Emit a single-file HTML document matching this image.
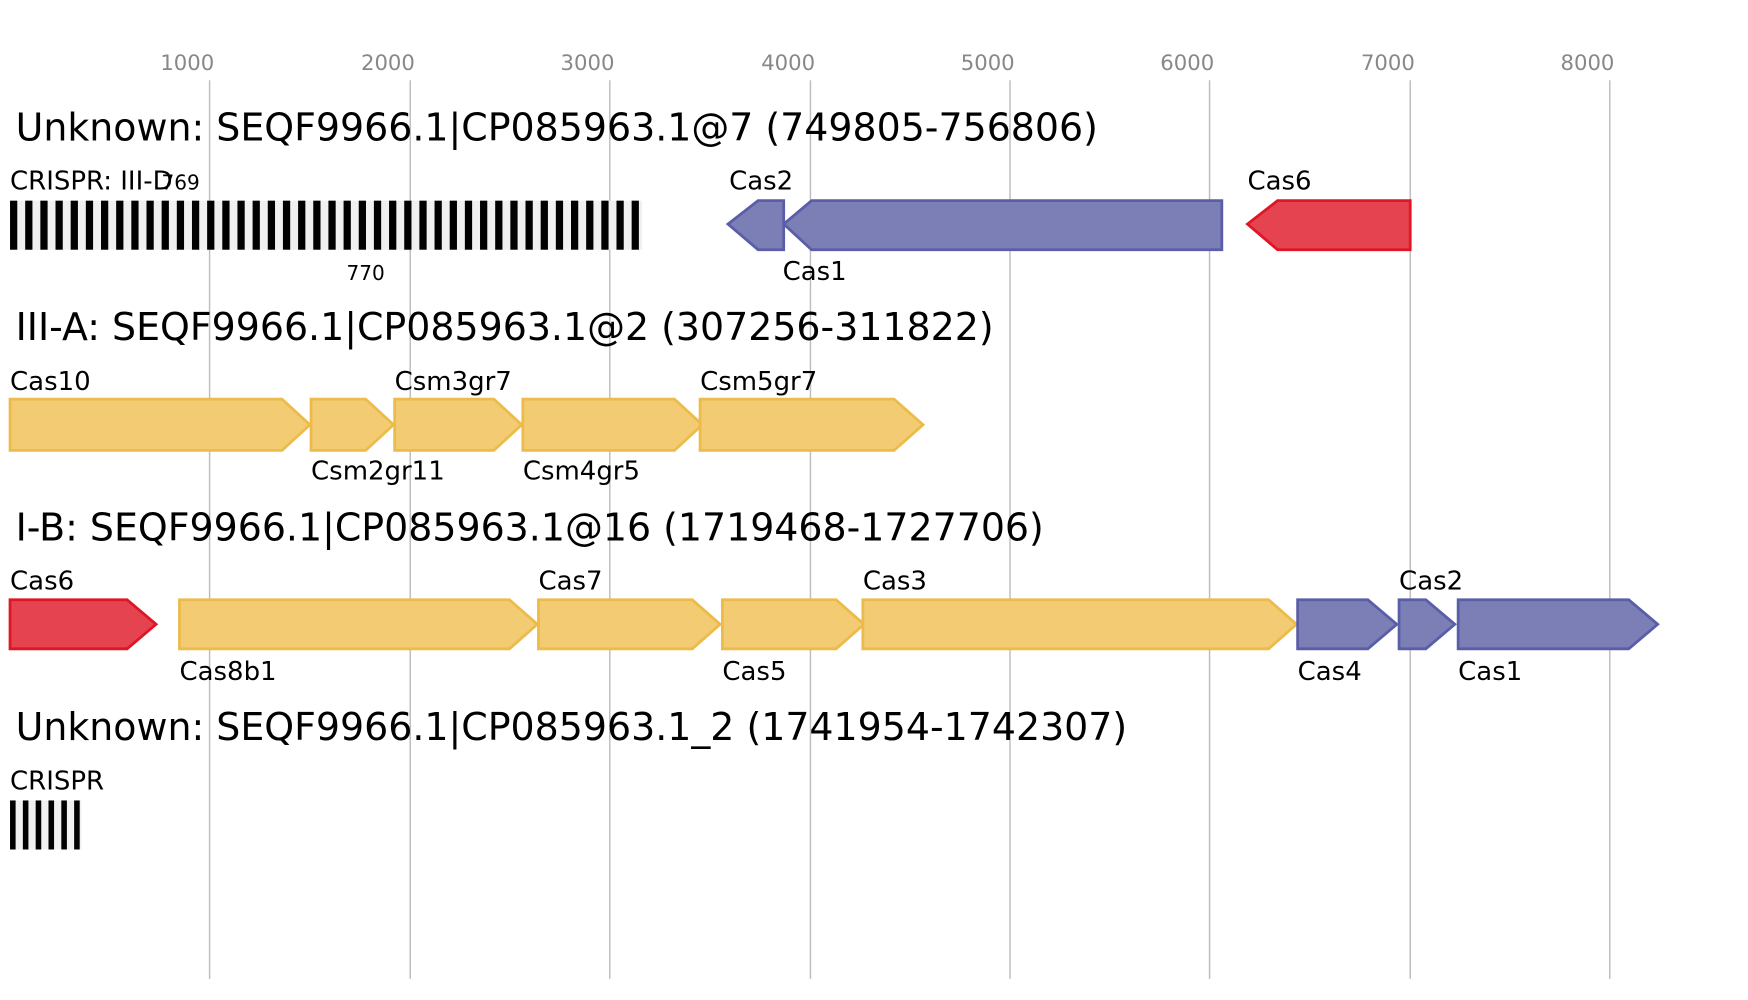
<!DOCTYPE html>
<html><head><meta charset="utf-8"><style>
html,body{margin:0;padding:0;background:#fff;}
svg{display:block;}
text{font-family:"DejaVu Sans","Liberation Sans",sans-serif;}
</style></head><body>
<svg width="1748" height="1000" viewBox="0 0 1568 897" preserveAspectRatio="none" xmlns="http://www.w3.org/2000/svg">
<g stroke="#bdbdbd" stroke-width="1.3">
<line x1="188" y1="72" x2="188" y2="878"/><line x1="368" y1="72" x2="368" y2="878"/>
<line x1="547" y1="72" x2="547" y2="878"/><line x1="727" y1="72" x2="727" y2="878"/>
<line x1="906" y1="72" x2="906" y2="878"/><line x1="1085" y1="72" x2="1085" y2="878"/>
<line x1="1265" y1="72" x2="1265" y2="878"/><line x1="1444" y1="72" x2="1444" y2="878"/>
</g>
<g fill="#888" font-size="19" text-anchor="middle">
<text x="168" y="63">1000</text><text x="348" y="63">2000</text><text x="527" y="63">3000</text>
<text x="707" y="63">4000</text><text x="886" y="63">5000</text><text x="1065" y="63">6000</text>
<text x="1245" y="63">7000</text><text x="1424" y="63">8000</text>
</g>
<g font-size="34" fill="#000">
<text x="14" y="126">Unknown: SEQF9966.1|CP085963.1@7 (749805-756806)</text>
<text x="14" y="305">III-A: SEQF9966.1|CP085963.1@2 (307256-311822)</text>
<text x="14" y="485">I-B: SEQF9966.1|CP085963.1@16 (1719468-1727706)</text>
<text x="14" y="664">Unknown: SEQF9966.1|CP085963.1_2 (1741954-1742307)</text>
</g>
<rect x="9" y="180" width="567" height="44" fill="#f0f0f0"/>
<g fill="#000">
<rect x="9" y="180" width="6.5" height="44"/><rect x="22.6" y="180" width="6.5" height="44"/><rect x="36.2" y="180" width="6.5" height="44"/><rect x="49.8" y="180" width="6.5" height="44"/><rect x="63.4" y="180" width="6.5" height="44"/><rect x="77" y="180" width="6.5" height="44"/><rect x="90.6" y="180" width="6.5" height="44"/><rect x="104.2" y="180" width="6.5" height="44"/><rect x="117.8" y="180" width="6.5" height="44"/><rect x="131.4" y="180" width="6.5" height="44"/><rect x="145" y="180" width="6.5" height="44"/><rect x="158.6" y="180" width="6.5" height="44"/><rect x="172.2" y="180" width="6.5" height="44"/><rect x="185.8" y="180" width="6.5" height="44"/><rect x="199.4" y="180" width="6.5" height="44"/><rect x="213" y="180" width="6.5" height="44"/><rect x="226.6" y="180" width="6.5" height="44"/><rect x="240.2" y="180" width="6.5" height="44"/><rect x="253.8" y="180" width="6.5" height="44"/><rect x="267.4" y="180" width="6.5" height="44"/><rect x="281" y="180" width="6.5" height="44"/><rect x="294.6" y="180" width="6.5" height="44"/><rect x="308.2" y="180" width="6.5" height="44"/><rect x="321.8" y="180" width="6.5" height="44"/><rect x="335.4" y="180" width="6.5" height="44"/><rect x="349" y="180" width="6.5" height="44"/><rect x="362.6" y="180" width="6.5" height="44"/><rect x="376.2" y="180" width="6.5" height="44"/><rect x="389.8" y="180" width="6.5" height="44"/><rect x="403.4" y="180" width="6.5" height="44"/><rect x="417" y="180" width="6.5" height="44"/><rect x="430.6" y="180" width="6.5" height="44"/><rect x="444.2" y="180" width="6.5" height="44"/><rect x="457.8" y="180" width="6.5" height="44"/><rect x="471.4" y="180" width="6.5" height="44"/><rect x="485" y="180" width="6.5" height="44"/><rect x="498.6" y="180" width="6.5" height="44"/><rect x="512.2" y="180" width="6.5" height="44"/><rect x="525.8" y="180" width="6.5" height="44"/><rect x="539.4" y="180" width="6.5" height="44"/><rect x="553" y="180" width="6.5" height="44"/><rect x="566.6" y="180" width="6.5" height="44"/>
</g>
<g stroke-width="2.5">
<polygon points="653,201 680,180 703,180 703,224 680,224" fill="#7b7fb5" stroke="#5a5ea8"/>
<polygon points="703,201 728,180 1096,180 1096,224 728,224" fill="#7b7fb5" stroke="#5a5ea8"/>
<polygon points="1119,201 1146,180 1265,180 1265,224 1146,224" fill="#e5434f" stroke="#de1625"/>
<g fill="#f2cb73" stroke="#ecbb4a">
<polygon points="9,358 253,358 278,381 253,404 9,404"/>
<polygon points="279,358 328,358 353,381 328,404 279,404"/>
<polygon points="354,358 443,358 468,381 443,404 354,404"/>
<polygon points="469,358 605,358 630,381 605,404 469,404"/>
<polygon points="628,358 802,358 828,381 802,404 628,404"/>
<polygon points="161,538 457,538 482,560 457,582 161,582"/>
<polygon points="483,538 621,538 646,560 621,582 483,582"/>
<polygon points="648,538 750,538 775,560 750,582 648,582"/>
<polygon points="774,538 1138,538 1163,560 1138,582 774,582"/>
</g>
<polygon points="9,538 114,538 140,560 114,582 9,582" fill="#e5434f" stroke="#de1625"/>
<g fill="#7b7fb5" stroke="#5a5ea8">
<polygon points="1164,538 1227,538 1253,560 1227,582 1164,582"/>
<polygon points="1255,538 1279,538 1305,560 1279,582 1255,582"/>
<polygon points="1308,538 1461,538 1487,560 1461,582 1308,582"/>
</g>
</g>
<g font-size="23.3" fill="#000">
<text x="9" y="170">CRISPR: III-D</text>
<text x="654" y="170">Cas2</text><text x="702" y="251">Cas1</text><text x="1119" y="170">Cas6</text>
<text x="9" y="350">Cas10</text><text x="279" y="430">Csm2gr11</text><text x="354" y="350">Csm3gr7</text>
<text x="469" y="430">Csm4gr5</text><text x="628" y="350">Csm5gr7</text>
<text x="9" y="529">Cas6</text><text x="161" y="610">Cas8b1</text><text x="483" y="529">Cas7</text>
<text x="648" y="610">Cas5</text><text x="774" y="529">Cas3</text><text x="1164" y="610">Cas4</text>
<text x="1255" y="529">Cas2</text><text x="1308" y="610">Cas1</text>
<text x="9" y="708">CRISPR</text>
</g>
<g font-size="18" fill="#000" text-anchor="middle">
<text x="162" y="170">769</text><text x="328" y="251">770</text>
</g>
<rect x="9" y="718" width="64" height="44" fill="#f0f0f0"/>
<g fill="#000">
<rect x="9" y="718" width="5" height="44"/><rect x="20.5" y="718" width="5" height="44"/><rect x="32" y="718" width="5" height="44"/><rect x="43.5" y="718" width="5" height="44"/><rect x="55" y="718" width="5" height="44"/><rect x="66.5" y="718" width="5" height="44"/>
</g>
</svg>
</body></html>
